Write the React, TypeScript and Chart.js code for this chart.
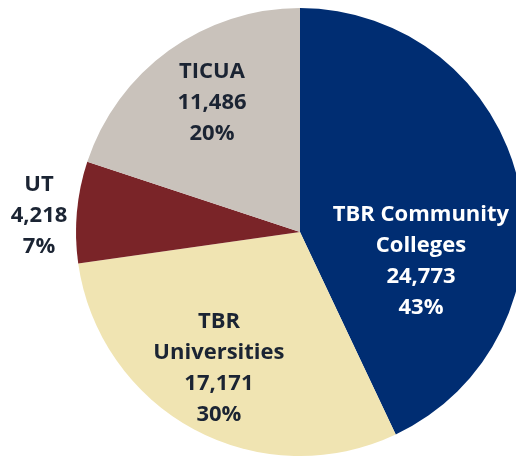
import React, { useEffect, useRef } from "react";
import { Chart, registerables } from "chart.js";

Chart.register(...registerables);

const categories = ["TBR Community Colleges", "TBR Universities", "UT", "TICUA"];
const labelLines = [["TBR Community", "Colleges"], ["TBR", "Universities"], ["UT"], ["TICUA"]];
const values = [24773, 17171, 4218, 11486];
const percentLabels = ["43%", "30%", "7%", "20%"];
const colors = ["#002D72", "#F0E4B2", "#7A2428", "#C9C2BB"];
const textColors = ["#FFFFFF", "#1B2433", "#1B2433", "#1B2433"];
// label block centers relative to the pie centre, in fractions of the radius
const labelOffsets = [
  [0.54, 0.13],
  [-0.362, 0.607],
  [-1.165, -0.071],
  [-0.393, -0.576],
];

const fmt = (n: number) => n.toLocaleString("en-US");

const labelPlugin = {
  id: "sliceLabels",
  afterDatasetsDraw(chart: any) {
    const meta = chart.getDatasetMeta(0);
    const ctx = chart.ctx;
    ctx.save();
    ctx.font = "bold 22px 'Open Sans'";
    ctx.textAlign = "center";
    ctx.textBaseline = "middle";
    const lh = 31;
    meta.data.forEach((arc: any, i: number) => {
      const { x, y, outerRadius } = arc.getProps(["x", "y", "outerRadius"], true);
      const lines = [...labelLines[i], fmt(values[i]), percentLabels[i]];
      const cx = x + labelOffsets[i][0] * outerRadius;
      const cy = y + labelOffsets[i][1] * outerRadius;
      const top = cy - ((lines.length - 1) * lh) / 2;
      ctx.fillStyle = textColors[i];
      lines.forEach((l, j) => ctx.fillText(l, cx, top + j * lh));
    });
    ctx.restore();
  },
};

export default function App() {
  const ref = useRef<HTMLCanvasElement>(null);
  useEffect(() => {
    if (!ref.current) return;
    const chart = new Chart(ref.current, {
      type: "pie",
      data: {
        labels: categories,
        datasets: [
          {
            data: values,
            backgroundColor: colors,
            borderWidth: 0,
            radius: 224,
            clip: false,
          } as any,
        ],
      },
      options: {
        responsive: false,
        animation: false,
        layout: { padding: { left: 84, right: 0, top: 6, bottom: 0 } },
        plugins: {
          legend: { display: false },
          tooltip: { enabled: false },
        },
      },
      plugins: [labelPlugin],
    });
    return () => chart.destroy();
  }, []);
  return (
    <div style={{ position: "fixed", left: 0, top: 0, width: 516, height: 458, background: "#fff" }}>
      <canvas ref={ref} width={516} height={458} style={{ display: "block" }} />
    </div>
  );
}
